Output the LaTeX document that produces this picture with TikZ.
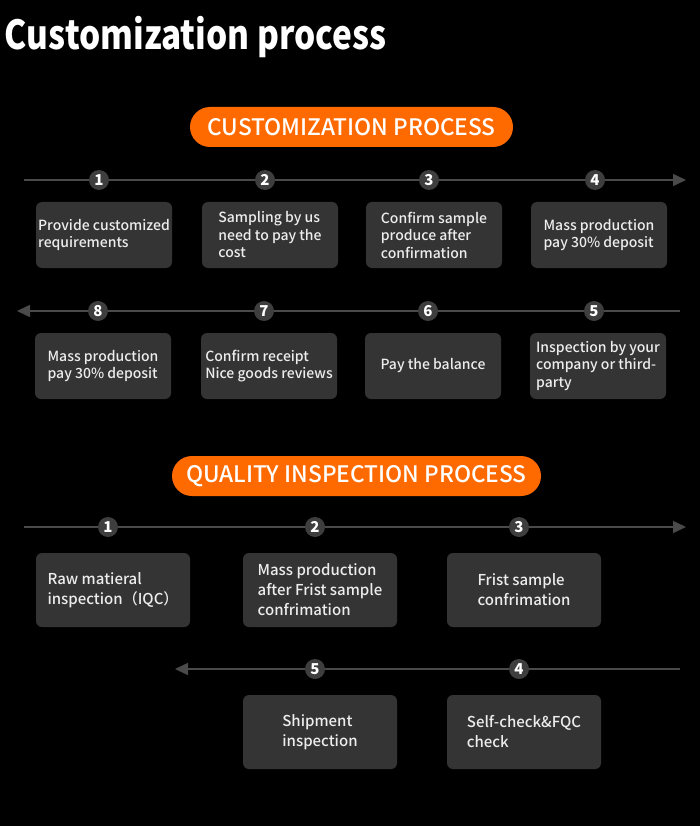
\documentclass[tikz,border=0pt]{standalone}
\usepackage{fontspec}
\setmainfont{Noto Sans CJK SC}
\newfontfamily\medfont{Noto Sans CJK SC Medium}
\usetikzlibrary{arrows.meta}
\definecolor{linegray}{HTML}{4A4A4A}
\definecolor{dotgray}{HTML}{3E3E3E}
\definecolor{boxgray}{HTML}{343434}
\definecolor{textw}{HTML}{EDEDED}
\definecolor{orange1}{HTML}{FF6A00}
\begin{document}
\begin{tikzpicture}[x=1pt,y=-1pt,
  every node/.style={inner sep=0pt, outer sep=0pt},
  flow/.style={draw=linegray, line width=1.6pt},
  tipR/.style={-{Triangle[length=13pt,width=12pt]}},
  numdot/.style={circle, fill=dotgray, minimum size=20pt, text=white, font=\bfseries\fontsize{15}{15}\selectfont},
  cbox/.style={rounded corners=6pt, fill=boxgray, minimum width=136pt, minimum height=66pt, text=textw, align=left, font=\medfont\fontsize{14}{17.5}\selectfont},
  qbox/.style={cbox, minimum width=154pt, minimum height=74pt, font=\medfont\fontsize{15}{20}\selectfont},
  pill/.style={fill=orange1, rounded corners=20pt, minimum height=40pt, text=white}
]
\fill[black] (0,0) rectangle (700,826);
\useasboundingbox (0,0) rectangle (700,826);

\node[anchor=base west, text=white, font=\bfseries\fontsize{40}{40}\selectfont] (title) at (5,50) {\scalebox{0.835}[1]{Customization process}};

\node[pill, minimum width=323pt, font=\medfont\fontsize{22.7}{22.7}\selectfont] (p1) at (351.5,127) {CUSTOMIZATION PROCESS};
\node[pill, minimum width=369pt, font=\medfont\fontsize{22.7}{22.7}\selectfont] (p2) at (356.5,476) {QUALITY INSPECTION PROCESS};

% connector lines
\coordinate (a1) at (24,180); \coordinate (b1) at (686,180);
\coordinate (a2) at (680,311); \coordinate (b2) at (17,311);
\coordinate (a3) at (24,527); \coordinate (b3) at (686,527);
\coordinate (a4) at (680,669); \coordinate (b4) at (175,669);
\draw[flow, tipR] (a1) -- (b1);
\draw[flow, tipR] (a2) -- (b2);
\draw[flow, tipR] (a3) -- (b3);
\draw[flow, tipR] (a4) -- (b4);

% customization steps
\node[numdot] (n1) at (99,180) {1};
\node[numdot] (n2) at (265,180) {2};
\node[numdot] (n3) at (429,180) {3};
\node[numdot] (n4) at (595,180) {4};
\node[numdot] (n8) at (98,311) {8};
\node[numdot] (n7) at (264,311) {7};
\node[numdot] (n6) at (428,311) {6};
\node[numdot] (n5) at (594,311) {5};

\node[cbox] (c1) at (104,235) {Provide customized\\requirements};
\node[cbox] (c2) at (270,235) {Sampling by us\\need to pay the\\cost};
\node[cbox] (c3) at (434,235) {Confirm sample\\produce after\\confirmation};
\node[cbox] (c4) at (599,235) {Mass production\\pay 30\% deposit};
\node[cbox] (c8) at (103,366) {Mass production\\pay 30\% deposit};
\node[cbox] (c7) at (269,366) {Confirm receipt\\Nice goods reviews};
\node[cbox] (c6) at (433,366) {Pay the balance};
\node[cbox] (c5) at (598,366) {Inspection by your\\company or third-\\party};

% quality steps
\node[numdot] (q1) at (108,527) {1};
\node[numdot] (q2) at (315,527) {2};
\node[numdot] (q3) at (519,527) {3};
\node[numdot] (q5) at (315,669) {5};
\node[numdot] (q4) at (519,669) {4};

\node[qbox] (d1) at (113,590) {Raw matieral\\inspection（IQC）};
\node[qbox] (d2) at (320,590) {Mass production\\after Frist sample\\confrimation};
\node[qbox] (d3) at (524,590) {Frist sample\\confrimation};
\node[qbox] (d5) at (320,732) {Shipment\\inspection};
\node[qbox] (d4) at (524,732) {Self-check\&FQC\\check};
\end{tikzpicture}
\end{document}
